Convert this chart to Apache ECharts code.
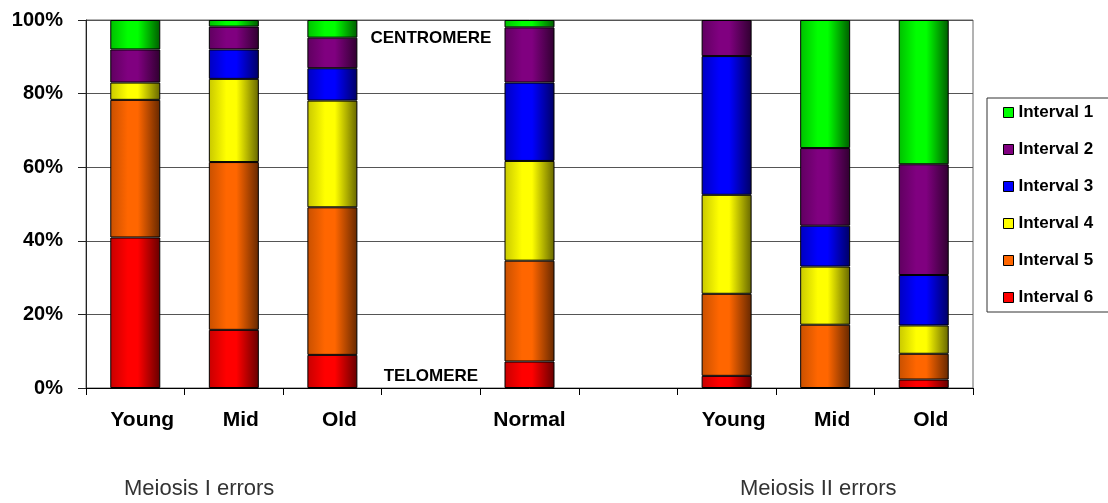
<!DOCTYPE html>
<html>
<head>
<meta charset="utf-8">
<script src="https://cdn.jsdelivr.net/npm/echarts@6/dist/echarts.min.js"></script>
<style>
html,body{margin:0;padding:0;background:#fff;}
#chart{width:1108px;height:503px;}
</style>
</head>
<body>
<div id="chart"></div>
<script>
// Categories (two empty spacer slots)
var categories = ['Young', 'Mid', 'Old', '', 'Normal', ' ', 'Young', 'Mid', 'Old'];
var seriesNames = ['Interval 6', 'Interval 5', 'Interval 4', 'Interval 3', 'Interval 2', 'Interval 1'];
var legendOrder = ['Interval 1', 'Interval 2', 'Interval 3', 'Interval 4', 'Interval 5', 'Interval 6'];
// Percent values per interval (bottom to top of each stack)
var interval6 = [40.9, 15.8, 9.0, '-', 7.2, '-', 3.3, 0, 2.3];
var interval5 = [37.4, 45.6, 40.1, '-', 27.4, '-', 22.3, 17.2, 7.0];
var interval4 = [4.7, 22.6, 29.0, '-', 27.1, '-', 26.9, 15.8, 7.7];
var interval3 = [0, 8.0, 8.8, '-', 21.3, '-', 37.7, 11.1, 13.7];
var interval2 = [9.0, 6.2, 8.3, '-', 15.0, '-', 9.8, 21.1, 30.1];
var interval1 = [8.0, 1.8, 4.8, '-', 2.0, '-', 0, 34.8, 39.2];
var yTicks = [0, 20, 40, 60, 80, 100];
var annotations = [
  {text: 'CENTROMERE', cat: 3, value: 95},
  {text: 'TELOMERE', cat: 3, value: 3.1}
];
var groupLabels = ['Meiosis I errors', 'Meiosis II errors'];

var values = [interval6, interval5, interval4, interval3, interval2, interval1];
var colors = {
  'Interval 1': ['#00FF00', '#00c000', '#005c00'],
  'Interval 2': ['#800080', '#600060', '#300030'],
  'Interval 3': ['#0000FF', '#0000c0', '#000064'],
  'Interval 4': ['#FFFF00', '#c8c800', '#666600'],
  'Interval 5': ['#FF6600', '#c85000', '#662800'],
  'Interval 6': ['#FF0000', '#c80000', '#660000']
};

function grad(name) {
  var c = colors[name];
  return new echarts.graphic.LinearGradient(0, 0, 1, 0, [
    {offset: 0, color: c[1]},
    {offset: 0.35, color: c[0]},
    {offset: 0.55, color: c[0]},
    {offset: 1, color: c[2]}
  ]);
}

var chart = echarts.init(document.getElementById('chart'), null, {renderer: 'canvas'});

var series = seriesNames.map(function (name, i) {
  return {
    name: name,
    type: 'bar',
    stack: 'total',
    barWidth: 50,
    data: values[i].map(function (v) { return v === 0 ? '-' : v; }),
    itemStyle: {color: grad(name), borderColor: '#000', borderWidth: 1},
    emphasis: {disabled: true}
  };
});

series.push({
  type: 'scatter',
  name: 'notes',
  symbolSize: 0,
  silent: true,
  z: 10,
  itemStyle: {opacity: 1},
  data: annotations.map(function (a) { return {value: [a.cat, a.value], name: a.text}; }),
  label: {
    show: true,
    position: 'inside',
    opacity: 1,
    formatter: function (p) { return p.name; },
    fontFamily: 'Liberation Sans, Arial, sans-serif',
    fontWeight: 'bold',
    fontSize: 17,
    color: '#000',
    textBorderWidth: 0
  }
});

var option = {
  animation: false,
  backgroundColor: '#fff',
  grid: {
    left: 86, right: 135, top: 20, bottom: 115,
    show: true, borderColor: '#666', borderWidth: 1
  },
  legend: {
    orient: 'vertical',
    left: 987, top: 98,
    padding: [6, 20, 6, 16],
    itemGap: 20,
    itemWidth: 10, itemHeight: 10,
    borderColor: '#333', borderWidth: 1,
    icon: 'rect',
    selectedMode: false,
    textStyle: {fontFamily: 'Liberation Sans, Arial, sans-serif', fontWeight: 'bold', fontSize: 17, color: '#000'},
    data: legendOrder.map(function (n) {
      return {name: n, itemStyle: {color: colors[n][0], borderColor: '#000', borderWidth: 1}};
    })
  },
  xAxis: {
    type: 'category',
    data: categories.map(function (c) {
      return {value: c, textStyle: {padding: c === 'Normal' ? 0 : [0, 0, 0, 14]}};
    }),
    axisLine: {lineStyle: {color: '#000', width: 1}},
    axisTick: {show: true, length: 7, alignWithLabel: false, lineStyle: {color: '#000'}},
    axisLabel: {
      margin: 22,
      interval: 0,
      fontFamily: 'Liberation Sans, Arial, sans-serif',
      fontWeight: 'bold',
      fontSize: 21,
      color: '#000'
    }
  },
  yAxis: {
    type: 'value',
    min: yTicks[0], max: yTicks[yTicks.length - 1], interval: 20,
    axisLine: {show: true, lineStyle: {color: '#222'}},
    axisTick: {show: true, length: 8, lineStyle: {color: '#222'}},
    splitLine: {show: true, lineStyle: {color: '#555', width: 1}},
    axisLabel: {
      margin: 23,
      formatter: '{value}%',
      fontFamily: 'Liberation Sans, Arial, sans-serif',
      fontWeight: 'bold',
      fontSize: 20,
      color: '#000'
    }
  },
  graphic: [
    {type: 'text', left: 124, top: 478, style: {text: groupLabels[0], font: '22px "Liberation Sans", Arial, sans-serif', fill: '#333'}},
    {type: 'text', left: 740, top: 478, style: {text: groupLabels[1], font: '22px "Liberation Sans", Arial, sans-serif', fill: '#333'}}
  ],
  series: series
};

chart.setOption(option);
</script>
</body>
</html>
